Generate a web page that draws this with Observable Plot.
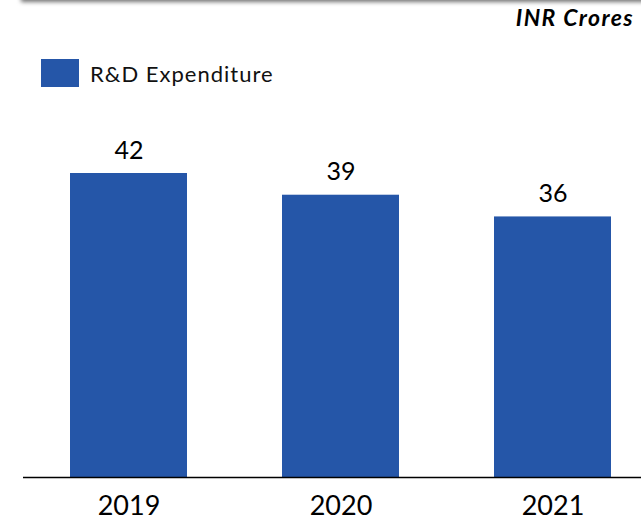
<!DOCTYPE html>
<html>
<head>
<meta charset="utf-8">
<script src="https://cdn.jsdelivr.net/npm/d3@7"></script>
<script src="https://cdn.jsdelivr.net/npm/@observablehq/plot@0.6"></script>
<style>
  html, body { margin: 0; padding: 0; background: #fff; overflow: hidden; }
  #wrap { position: relative; width: 641px; height: 523px; font-family: Lato, "Open Sans", sans-serif; }
  #shadow { position: absolute; left: 22px; top: -8px; width: 640px; height: 8px; background: #888;
            box-shadow: 0 1px 4px 1px rgba(0,0,0,0.55); }
  #unit { position: absolute; right: 7px; top: 3px; font-size: 23px; letter-spacing: 1.4px; font-weight: bold; font-style: italic; color: #000; }
  #legend { position: absolute; left: 41px; top: 59px; display: flex; align-items: center; font-size: 22px; letter-spacing: 1px; color: #111; }
  #legend .sw { width: 38px; height: 28px; background: #2556a8; margin-right: 11px; }
  #chart { position: absolute; left: 0; top: 0; }
</style>
</head>
<body>
<div id="wrap">
  <div id="shadow"></div>
  <div id="unit">INR Crores</div>
  <div id="legend"><div class="sw"></div><span>R&amp;D Expenditure</span></div>
  <div id="chart"></div>
</div>
<script>
const years = ["2019", "2020", "2021"];
const rdExpenditure = [42, 39, 36];
const seriesName = "R&D Expenditure";
const barColor = "#2556a8";

const data = years.map((y, i) => ({year: y, value: rdExpenditure[i]}));

const chart = Plot.plot({
  width: 641,
  height: 523,
  marginLeft: 23,
  marginRight: 0,
  marginTop: 0,
  marginBottom: 46,
  style: {fontFamily: "Lato, 'Open Sans', sans-serif", background: "transparent", color: "#000"},
  x: {type: "band", domain: years, range: [22.5, 658.5], paddingInner: 0.448, paddingOuter: 0.224, label: null},
  y: {domain: [0, 42], range: [477, 173], axis: null},
  marks: [
    Plot.barY(data, {x: "year", y: "value", fill: barColor}),
    Plot.ruleY([0], {stroke: "#000", strokeWidth: 1.6}),
    Plot.text(data, {x: "year", y: "value", text: d => String(d.value), dy: -15, lineAnchor: "bottom", fontSize: 25, fill: "#000"}),
    Plot.axisX({tickSize: 0, tickPadding: 18, fontSize: 27, label: null, fill: "#000"})
  ]
});
document.getElementById("chart").appendChild(chart);
</script>
</body>
</html>
